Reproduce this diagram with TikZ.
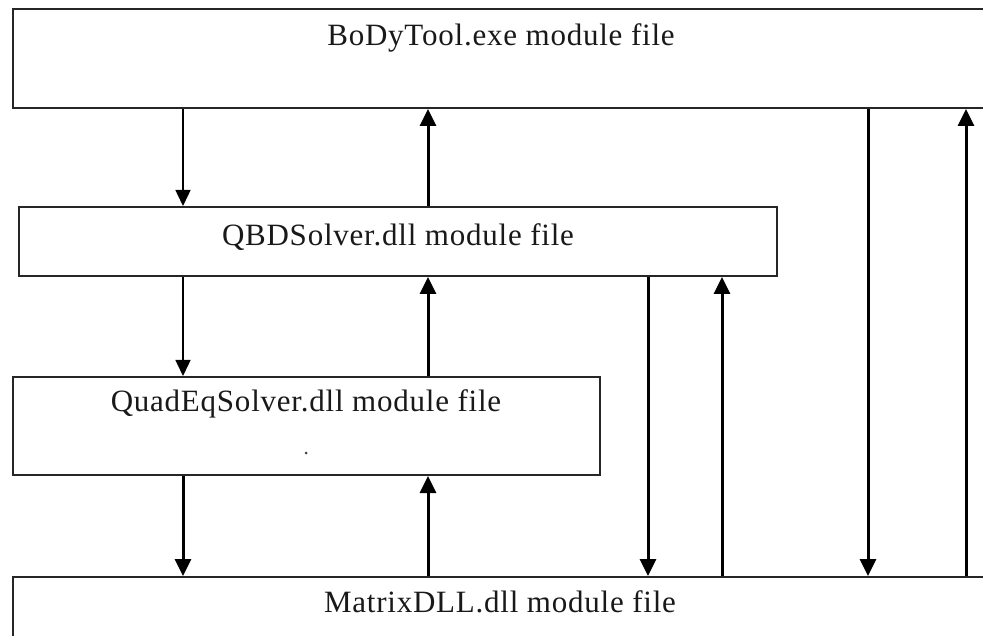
\documentclass[tikz,border=0pt]{standalone}
\usepackage{fontspec}
\setmainfont{Liberation Serif}[LetterSpace=2.5]
\usetikzlibrary{arrows.meta}
\begin{document}
\begin{tikzpicture}[x=1pt,y=-1pt,
  modbox/.style={draw=black!85, line width=2pt, fill=white, inner sep=0pt, anchor=north west},
  modtext/.style={inner sep=0pt, font=\fontsize{31}{36}\selectfont, text=black!90},
  thinarr/.style={line width=1.5pt, -{Triangle[width=15pt,length=16pt]}},
  thickarr/.style={line width=3pt, -{Triangle[width=16pt,length=17pt]}}]
\useasboundingbox (0,0) rectangle (983,636);
\clip (0,0) rectangle (983,636);
% boxes
\node[modbox, minimum width=990pt, minimum height=99pt] (top) at (12,8) {};
\node[modbox, minimum width=758pt, minimum height=69pt] (qbd) at (18,206) {};
\node[modbox, minimum width=587pt, minimum height=98pt] (quad) at (12,376) {};
\node[modbox, minimum width=990pt, minimum height=90pt] (mat) at (12,576) {};
% texts
\node[modtext] (toptext) at (501,38) {BoDyTool.exe module file};
\node[modtext] (qbdtext) at (398,237) {QBDSolver.dll module file};
\node[modtext] (quadtext) at (306,404) {QuadEqSolver.dll module file};
\node[modtext] (mattext) at (500,602) {MatrixDLL.dll module file};
\node[fill=black!75, circle, inner sep=0pt, minimum size=3pt] (dot) at (306,453) {};
% columns
\coordinate (c1) at (183,0);
\coordinate (c2) at (428,0);
\coordinate (c3) at (648,0);
\coordinate (c4) at (722,0);
\coordinate (c5) at (868,0);
\coordinate (c6) at (966,0);
% arrows
\draw[thinarr] (top.south -| c1) -- (qbd.north -| c1);
\draw[thickarr] (qbd.north -| c2) -- (top.south -| c2);
\draw[thinarr] (qbd.south -| c1) -- (quad.north -| c1);
\draw[thickarr] (quad.north -| c2) -- (qbd.south -| c2);
\draw[thickarr] (quad.south -| c1) -- (mat.north -| c1);
\draw[thickarr] (mat.north -| c2) -- (quad.south -| c2);
\draw[thickarr] (qbd.south -| c3) -- (mat.north -| c3);
\draw[thickarr] (mat.north -| c4) -- (qbd.south -| c4);
\draw[thickarr] (top.south -| c5) -- (mat.north -| c5);
\draw[thickarr] (mat.north -| c6) -- (top.south -| c6);
\end{tikzpicture}
\end{document}
